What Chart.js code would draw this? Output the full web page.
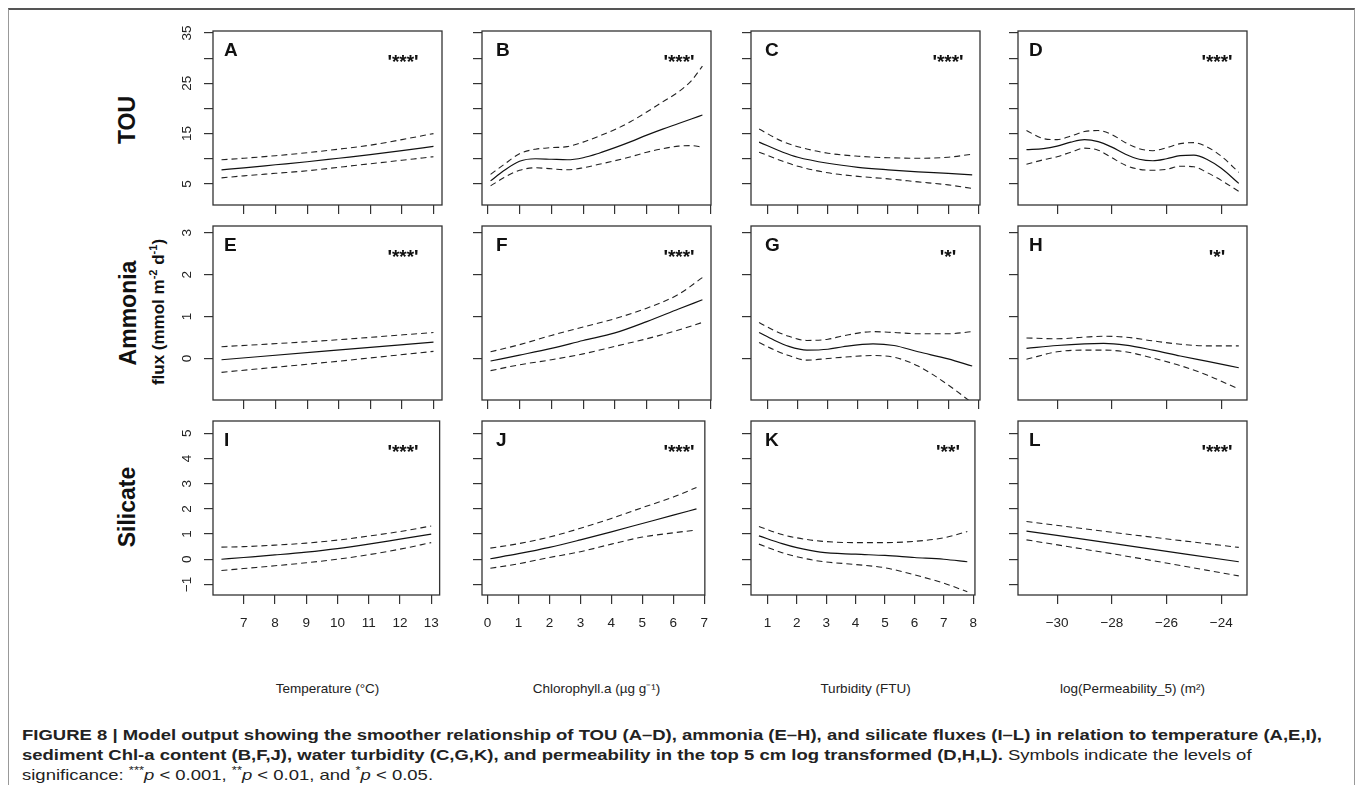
<!DOCTYPE html>
<html>
<head>
<meta charset="utf-8">
<script src="https://cdn.jsdelivr.net/npm/chart.js@4.4.1/dist/chart.umd.min.js"></script>
<style>
  body { margin: 0; background: #fff; width: 1358px; height: 785px; overflow: hidden; position: relative;
         font-family: "Liberation Sans", Arial, Helvetica, sans-serif; }
  .frame { position: absolute; left: 8px; top: 8px; width: 1347px; height: 800px; box-sizing: border-box;
           border-top: 2px solid #555; border-left: 1px solid #999; border-right: 1px solid #999; }
  canvas { position: absolute; }
  .rot { position: absolute; transform: translate(-50%, -50%) rotate(-90deg); white-space: nowrap;
         font-weight: bold; color: #111; }
  .rot sup { font-size: 65%; }
  .xtitle { position: absolute; transform: translate(-50%, -50%); font-size: 13.5px; color: #222; white-space: nowrap; }
  .cap { position: absolute; left: 22px; font-size: 14.5px; color: #222; white-space: nowrap; transform-origin: 0 50%; }
  .cap b { font-weight: bold; }
  .cap sup { font-size: 70%; }
</style>
</head>
<body>
<div class="frame"></div>

<div class="rot" style="left:127px; top:120px; font-size:23px;">TOU</div>
<div class="rot" style="left:128px; top:313px; font-size:23px;">Ammonia</div>
<div class="rot" style="left:158px; top:312px; font-size:17px;">flux (mmol m<sup>-2</sup> d<sup>-1</sup>)</div>
<div class="rot" style="left:127px; top:507px; font-size:23px;">Silicate</div>

<div id="titles"></div>

<div class="cap" id="cap1" style="top:735px;"><b>FIGURE 8 | Model output showing the smoother relationship of TOU (A–D), ammonia (E–H), and silicate fluxes (I–L) in relation to temperature (A,E,I),</b></div>
<div class="cap" id="cap2" style="top:755px;"><b>sediment Chl-a content (B,F,J), water turbidity (C,G,K), and permeability in the top 5 cm log transformed (D,H,L).</b> Symbols indicate the levels of</div>
<div class="cap" id="cap3" style="top:774px;">significance: <sup>***</sup><i>p</i> &lt; 0.001, <sup>**</sup><i>p</i> &lt; 0.01, and <sup>*</sup><i>p</i> &lt; 0.05.</div>

<script>
// panel labels and significance
const letters = ['A', 'B', 'C', 'D', 'E', 'F', 'G', 'H', 'I', 'J', 'K', 'L'];
const signif = ["'***'", "'***'", "'***'", "'***'", "'***'", "'***'", "'*'", "'*'", "'***'", "'***'", "'**'", "'***'"];
const xTitles = ['Temperature (°C)', 'Chlorophyll.a (µg g⁻¹)', 'Turbidity (FTU)', 'log(Permeability_5) (m²)'];

// axes (columns share x, rows share y)
const xMin = [6.02, -0.18, 0.44, -31.43];
const xMax = [13.27, 7.02, 8.06, -23.06];
const xTicks = [[7, 8, 9, 10, 11, 12, 13], [0, 1, 2, 3, 4, 5, 6, 7], [1, 2, 3, 4, 5, 6, 7, 8], [-30, -28, -26, -24]];
const xTickLabels = [['7', '8', '9', '10', '11', '12', '13'], ['0', '1', '2', '3', '4', '5', '6', '7'],
                     ['1', '2', '3', '4', '5', '6', '7', '8'], ['−30', '−28', '−26', '−24']];
const yMin = [0.8, -0.99, -1.42];
const yMax = [35.4, 3.16, 5.49];
const yTicks = [[5, 10, 15, 20, 25, 30, 35], [0, 1, 2, 3], [-1, 0, 1, 2, 3, 4, 5]];
const yTickLabels = [['5', '', '15', '', '25', '', '35'], ['0', '1', '2', '3'], ['−1', '0', '1', '2', '3', '4', '5']];

// TOU
const xA = [6.29, 7, 8, 9, 10, 11, 12, 13];
const fitA = [7.8, 8.2, 8.8, 9.4, 10.1, 10.8, 11.6, 12.46];
const upA = [9.8, 10.1, 10.6, 11.2, 11.9, 12.7, 13.8, 15.0];
const loA = [6.2, 6.6, 7.1, 7.6, 8.3, 9.0, 9.7, 10.4];

const xB = [0.09, 0.5, 1, 1.5, 2, 2.5, 3, 3.5, 4, 4.5, 5, 5.5, 6, 6.4, 6.75];
const fitB = [5.6, 7.6, 9.5, 10.0, 9.9, 9.8, 10.2, 11.1, 12.2, 13.4, 14.7, 15.9, 17.0, 17.9, 18.7];
const upB = [6.9, 8.8, 11.0, 11.9, 12.2, 12.4, 13.3, 14.5, 15.8, 17.4, 19.3, 21.3, 23.3, 25.5, 28.4];
const loB = [4.6, 6.2, 7.7, 8.2, 8.0, 7.8, 8.2, 8.9, 9.6, 10.4, 11.3, 12.0, 12.5, 12.6, 12.3];

const xC = [0.71, 1.5, 2, 3, 4, 5, 6, 7, 7.8];
const fitC = [13.3, 11.3, 10.3, 9.1, 8.3, 7.8, 7.4, 7.1, 6.8];
const upC = [15.9, 13.4, 12.4, 11.1, 10.5, 10.2, 10.1, 10.3, 10.9];
const loC = [11.3, 9.5, 8.5, 7.2, 6.5, 6.0, 5.4, 4.8, 4.1];

const xD = [-31.12, -30.5, -30, -29.5, -29, -28.5, -28, -27.5, -27, -26.5, -26, -25.5, -25, -24.5, -24, -23.36];
const fitD = [11.8, 12.0, 12.5, 13.3, 13.8, 13.4, 12.3, 10.9, 9.9, 9.6, 10.0, 10.6, 10.7, 9.8, 8.1, 5.1];
const upD = [15.6, 14.0, 13.8, 14.5, 15.4, 15.6, 14.8, 13.2, 12.0, 11.6, 12.2, 13.0, 13.2, 12.3, 10.5, 7.3];
const loD = [8.9, 9.8, 10.4, 11.3, 12.1, 11.7, 10.2, 8.7, 7.9, 7.7, 7.9, 8.5, 8.4, 7.2, 5.7, 3.5];

// Ammonia
const xE = [6.29, 9.65, 13];
const fitE = [-0.03, 0.18, 0.39];
const upE = [0.28, 0.43, 0.62];
const loE = [-0.33, -0.09, 0.17];

const xF = [0.09, 1, 2, 3, 4, 5, 6, 6.75];
const fitF = [-0.06, 0.08, 0.24, 0.43, 0.61, 0.88, 1.18, 1.40];
const upF = [0.16, 0.33, 0.55, 0.75, 0.95, 1.2, 1.53, 1.93];
const loF = [-0.29, -0.15, -0.03, 0.11, 0.29, 0.47, 0.68, 0.86];

const xG = [0.71, 1.2, 1.7, 2.3, 3, 3.5, 4.5, 5.2, 6, 7, 7.8];
const fitG = [0.62, 0.44, 0.29, 0.20, 0.22, 0.28, 0.35, 0.31, 0.16, -0.01, -0.18];
const upG = [0.86, 0.67, 0.53, 0.43, 0.46, 0.54, 0.64, 0.62, 0.59, 0.59, 0.64];
const loG = [0.38, 0.21, 0.07, -0.04, 0.0, 0.03, 0.07, 0.03, -0.18, -0.63, -1.06];

const xH = [-31.12, -30, -29, -28.3, -27.5, -26.5, -25.5, -24.5, -23.36];
const fitH = [0.24, 0.31, 0.35, 0.36, 0.32, 0.2, 0.06, -0.07, -0.22];
const upH = [0.49, 0.47, 0.51, 0.53, 0.51, 0.42, 0.34, 0.30, 0.30];
const loH = [-0.02, 0.16, 0.2, 0.2, 0.16, 0.01, -0.17, -0.4, -0.73];

// Silicate
const xI = [6.29, 7, 8, 9, 10, 11, 12, 13];
const fitI = [0.0, 0.07, 0.17, 0.28, 0.42, 0.6, 0.8, 1.0];
const upI = [0.48, 0.5, 0.56, 0.64, 0.76, 0.92, 1.1, 1.32];
const loI = [-0.45, -0.37, -0.26, -0.14, 0.0, 0.18, 0.4, 0.66];

const xJ = [0.09, 1, 2, 3, 4, 5, 6, 6.75];
const fitJ = [0.02, 0.22, 0.47, 0.77, 1.09, 1.42, 1.75, 2.0];
const upJ = [0.44, 0.62, 0.88, 1.23, 1.62, 2.05, 2.47, 2.85];
const loJ = [-0.36, -0.18, 0.07, 0.3, 0.6, 0.88, 1.05, 1.16];

const xK = [0.71, 1.5, 2, 2.8, 4, 5, 6, 7, 7.8];
const fitK = [0.93, 0.62, 0.46, 0.28, 0.2, 0.15, 0.07, 0.0, -0.1];
const upK = [1.3, 0.98, 0.85, 0.72, 0.66, 0.66, 0.71, 0.85, 1.1];
const loK = [0.6, 0.26, 0.1, -0.08, -0.21, -0.34, -0.62, -0.95, -1.29];

const xL = [-31.12, -27.24, -23.36];
const fitL = [1.12, 0.51, -0.1];
const upL = [1.5, 0.97, 0.47];
const loL = [0.77, 0.08, -0.66];

const panels = [
  [xA, fitA, upA, loA], [xB, fitB, upB, loB], [xC, fitC, upC, loC], [xD, fitD, upD, loD],
  [xE, fitE, upE, loE], [xF, fitF, upF, loF], [xG, fitG, upG, loG], [xH, fitH, upH, loH],
  [xI, fitI, upI, loI], [xJ, fitJ, upJ, loJ], [xK, fitK, upK, loK], [xL, fitL, upL, loL]
];

// layout
const colLeft = [213, 482, 751, 1018];
const rowTop = [31, 226, 421];
const plotW = 229, plotH = 174;
const padL = 45, padT = 6, padR = 8;
const xAxisH = [16, 16, 45];
const letterDx = [11, 14, 14, 11];
const sigDx = [190, 197, 197, 199];
const FONT = '"Liberation Sans", Arial, Helvetica, sans-serif';

function pts(xs, ys) {
  return xs.map((x, i) => ({ x: x, y: ys[i] }));
}

const decor = {
  id: 'decor',
  afterDatasetsDraw(chart, args, opts) {
    const { ctx, chartArea } = chart;
    ctx.save();
    ctx.strokeStyle = '#333';
    ctx.lineWidth = 1.3;
    ctx.strokeRect(chartArea.left, chartArea.top, chartArea.right - chartArea.left, chartArea.bottom - chartArea.top);

    ctx.fillStyle = '#111';
    ctx.textBaseline = 'middle';
    ctx.textAlign = 'left';
    ctx.font = 'bold 19px ' + FONT;
    ctx.fillText(letters[opts.idx], chartArea.left + letterDx[opts.c], chartArea.top + 20);
    ctx.textAlign = 'center';
    ctx.font = 'bold 19px ' + FONT;
    ctx.fillText(signif[opts.idx], chartArea.left + sigDx[opts.c], chartArea.top + 32);

    if (opts.c === 0) {
      const ys = chart.scales.y;
      ctx.font = '13.5px ' + FONT;
      ctx.fillStyle = '#222';
      ys.ticks.forEach((t, i) => {
        const lab = yTickLabels[opts.r][i];
        if (!lab) return;
        ctx.save();
        ctx.translate(chartArea.left - 26, ys.getPixelForValue(t.value));
        ctx.rotate(-Math.PI / 2);
        ctx.fillText(lab, 0, 0);
        ctx.restore();
      });
    }
    ctx.restore();
  }
};

for (let r = 0; r < 3; r++) {
  for (let c = 0; c < 4; c++) {
    const idx = r * 4 + c;
    const [xs, fit, up, lo] = panels[idx];
    const cv = document.createElement('canvas');
    const w = padL + plotW + padR, h = padT + plotH + xAxisH[r];
    cv.width = w; cv.height = h;
    cv.style.left = (colLeft[c] - padL) + 'px';
    cv.style.top = (rowTop[r] - padT) + 'px';
    cv.style.width = w + 'px'; cv.style.height = h + 'px';
    document.body.appendChild(cv);

    const gridOpts = { display: true, drawOnChartArea: false, drawTicks: true, tickLength: 9, color: '#333', lineWidth: 1.2 };
    new Chart(cv, {
      type: 'line',
      data: {
        datasets: [
          { data: pts(xs, fit), borderColor: '#111', borderWidth: 1.2 },
          { data: pts(xs, up), borderColor: '#222', borderWidth: 1.1, borderDash: [6, 4] },
          { data: pts(xs, lo), borderColor: '#222', borderWidth: 1.1, borderDash: [6, 4] }
        ]
      },
      options: {
        responsive: false,
        animation: false,
        devicePixelRatio: 1,
        layout: { padding: { top: padT, right: padR, left: 0, bottom: 0 } },
        elements: { point: { radius: 0 }, line: { cubicInterpolationMode: 'monotone', fill: false } },
        plugins: { legend: { display: false }, tooltip: { enabled: false }, decor: { idx: idx, r: r, c: c } },
        scales: {
          x: {
            type: 'linear', min: xMin[c], max: xMax[c],
            afterBuildTicks: s => { s.ticks = xTicks[c].map(v => ({ value: v })); },
            afterFit: s => { s.height = xAxisH[r]; },
            grid: gridOpts,
            border: { display: false },
            ticks: {
              display: r === 2, autoSkip: false, maxRotation: 0, padding: 11,
              color: '#222', font: { size: 13.5, family: FONT },
              callback: (v, i) => xTickLabels[c][i]
            }
          },
          y: {
            type: 'linear', min: yMin[r], max: yMax[r],
            afterBuildTicks: s => { s.ticks = yTicks[r].map(v => ({ value: v })); },
            afterFit: s => { s.width = padL; },
            grid: gridOpts,
            border: { display: false },
            ticks: { display: false }
          }
        }
      },
      plugins: [decor]
    });
  }
}

// x axis titles
const titles = document.getElementById('titles');
xTitles.forEach((t, c) => {
  const d = document.createElement('div');
  d.className = 'xtitle';
  d.textContent = t;
  d.style.left = (colLeft[c] + plotW / 2) + 'px';
  d.style.top = '688px';
  titles.appendChild(d);
});

// squeeze caption to the condensed width of the original
const cap1 = document.getElementById('cap1');
const k = 1300 / cap1.getBoundingClientRect().width;
['cap1', 'cap2', 'cap3'].forEach(id => {
  document.getElementById(id).style.transform = 'translateY(-50%) scaleX(' + k + ')';
});
</script>
</body>
</html>
